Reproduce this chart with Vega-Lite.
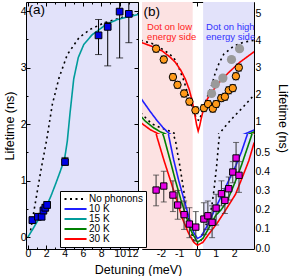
{
"$schema":"https://vega.github.io/schema/vega-lite/v6.json",
"padding":{"left":3,"top":1,"right":0,"bottom":0},
"bounds":"flush",
"spacing":4,
"config":{
 "font":"Liberation Sans",
 "view":{"stroke":null},
 "axis":{"grid":false,"domainColor":"black","domainWidth":1,"tickColor":"black","tickWidth":1,"tickSize":-4,"labelFont":"Liberation Sans","labelFontSize":10.5,"labelColor":"black","labelPadding":3,"titleFont":"Liberation Sans","titleFontSize":12.5,"titleFontWeight":"normal","titleColor":"black"}
},
"datasets":{
 "curvesA":[
  {"x":0.3,"y":0.12,"series":"No phonons"},{"x":0.6,"y":0.4,"series":"No phonons"},{"x":1.03,"y":0.81,"series":"No phonons"},{"x":1.5,"y":1.25,"series":"No phonons"},{"x":2.05,"y":1.72,"series":"No phonons"},{"x":2.67,"y":2.35,"series":"No phonons"},{"x":3.4,"y":2.82,"series":"No phonons"},{"x":4.3,"y":3.23,"series":"No phonons"},{"x":5.58,"y":3.53,"series":"No phonons"},{"x":6.84,"y":3.68,"series":"No phonons"},{"x":8.3,"y":3.79,"series":"No phonons"},{"x":10.5,"y":3.9,"series":"No phonons"},{"x":12,"y":3.95,"series":"No phonons"},
  {"x":0,"y":0,"series":"15 K"},{"x":0.5,"y":0.13,"series":"15 K"},{"x":1.0,"y":0.27,"series":"15 K"},{"x":1.5,"y":0.4,"series":"15 K"},{"x":2.0,"y":0.54,"series":"15 K"},{"x":2.5,"y":0.72,"series":"15 K"},{"x":3.0,"y":0.93,"series":"15 K"},{"x":3.5,"y":1.15,"series":"15 K"},{"x":4.0,"y":1.38,"series":"15 K"},{"x":4.3,"y":1.7,"series":"15 K"},{"x":4.6,"y":2.2,"series":"15 K"},{"x":5.0,"y":2.8,"series":"15 K"},{"x":5.5,"y":3.18,"series":"15 K"},{"x":6.1,"y":3.41,"series":"15 K"},{"x":7.0,"y":3.58,"series":"15 K"},{"x":7.6,"y":3.65,"series":"15 K"},{"x":8.5,"y":3.76,"series":"15 K"},{"x":9.75,"y":3.85,"series":"15 K"},{"x":11,"y":3.9,"series":"15 K"},{"x":12,"y":3.94,"series":"15 K"},
  {"x":-5,"y":-5,"series":"10 K"},{"x":-5,"y":-5,"series":"20 K"},{"x":-5,"y":-5,"series":"30 K"}
 ],
 "pointsA":[
  {"x":0.5,"y":0.30,"ylo":0.25,"yhi":0.36,"xlo":0.2,"xhi":0.8},
  {"x":1.1,"y":0.36,"ylo":0.31,"yhi":0.41,"xlo":0.8,"xhi":1.4},
  {"x":1.5,"y":0.36,"ylo":0.31,"yhi":0.42,"xlo":1.2,"xhi":1.8},
  {"x":1.7,"y":0.47,"ylo":0.41,"yhi":0.53,"xlo":1.4,"xhi":2.0},
  {"x":1.9,"y":0.52,"ylo":0.46,"yhi":0.58,"xlo":1.6,"xhi":2.2},
  {"x":2.1,"y":0.57,"ylo":0.51,"yhi":0.63,"xlo":1.8,"xhi":2.4},
  {"x":4.05,"y":1.33,"ylo":1.27,"yhi":1.41,"xlo":3.75,"xhi":4.35},
  {"x":7.7,"y":3.57,"ylo":3.23,"yhi":3.85,"xlo":7.7,"xhi":7.7},
  {"x":8.7,"y":3.72,"ylo":3.03,"yhi":3.80,"xlo":8.4,"xhi":9.0},
  {"x":10.0,"y":3.99,"ylo":3.17,"yhi":4.4,"xlo":10.0,"xhi":10.0},
  {"x":11.0,"y":3.95,"ylo":3.44,"yhi":4.5,"xlo":11.0,"xhi":11.0}
 ],
 "bands":[{"x1":-3.03,"x2":-0.26,"band":"low"},{"x1":0.31,"x2":3.09,"band":"high"}],
 "curvesB":[
  {"x":-3.1,"y":4.02,"series":"No phonons","curve":"np1"},{"x":-2.48,"y":3.9,"series":"No phonons","curve":"np1"},{"x":-1.8,"y":3.65,"series":"No phonons","curve":"np1"},{"x":-1.29,"y":3.38,"series":"No phonons","curve":"np1"},{"x":-1.02,"y":3.01,"series":"No phonons","curve":"np1"},{"x":-0.74,"y":2.52,"series":"No phonons","curve":"np1"},{"x":-0.47,"y":1.9,"series":"No phonons","curve":"np1"},{"x":-0.2,"y":1.41,"series":"No phonons","curve":"np1"},{"x":-0.05,"y":1.1,"series":"No phonons","curve":"np1"},{"x":0.1,"y":1.05,"series":"No phonons","curve":"np1"},{"x":0.3,"y":1.45,"series":"No phonons","curve":"np1"},{"x":0.55,"y":1.95,"series":"No phonons","curve":"np1"},{"x":0.8,"y":2.4,"series":"No phonons","curve":"np1"},{"x":0.98,"y":2.83,"series":"No phonons","curve":"np1"},{"x":1.2,"y":3.2,"series":"No phonons","curve":"np1"},{"x":1.44,"y":3.51,"series":"No phonons","curve":"np1"},{"x":1.99,"y":3.81,"series":"No phonons","curve":"np1"},{"x":2.5,"y":3.95,"series":"No phonons","curve":"np1"},{"x":3.1,"y":4.02,"series":"No phonons","curve":"np1"},
  {"x":-3.1,"y":1.33,"series":"No phonons","curve":"np2"},{"x":-2.5,"y":0.93,"series":"No phonons","curve":"np2"},{"x":-2.0,"y":0.78,"series":"No phonons","curve":"np2"},{"x":-1.6,"y":0.68,"series":"No phonons","curve":"np2"},{"x":-1.35,"y":0.6,"series":"No phonons","curve":"np2"},{"x":-1.2,"y":0.56,"series":"No phonons","curve":"np2"},{"x":-1.1,"y":0.5,"series":"No phonons","curve":"np2"},{"x":-1.0,"y":0.45,"series":"No phonons","curve":"np2"},{"x":-0.9,"y":0.39,"series":"No phonons","curve":"np2"},{"x":-0.75,"y":0.3,"series":"No phonons","curve":"np2"},{"x":-0.6,"y":0.2,"series":"No phonons","curve":"np2"},{"x":-0.4,"y":0.1,"series":"No phonons","curve":"np2"},{"x":-0.2,"y":0.04,"series":"No phonons","curve":"np2"},{"x":0,"y":0.02,"series":"No phonons","curve":"np2"},{"x":0.2,"y":0.04,"series":"No phonons","curve":"np2"},{"x":0.4,"y":0.1,"series":"No phonons","curve":"np2"},{"x":0.6,"y":0.16,"series":"No phonons","curve":"np2"},{"x":0.77,"y":0.21,"series":"No phonons","curve":"np2"},{"x":0.9,"y":0.3,"series":"No phonons","curve":"np2"},{"x":1.05,"y":0.43,"series":"No phonons","curve":"np2"},{"x":1.17,"y":0.56,"series":"No phonons","curve":"np2"},{"x":1.3,"y":0.65,"series":"No phonons","curve":"np2"},{"x":1.6,"y":0.9,"series":"No phonons","curve":"np2"},{"x":2.0,"y":1.2,"series":"No phonons","curve":"np2"},{"x":2.5,"y":1.55,"series":"No phonons","curve":"np2"},{"x":3.1,"y":2.0,"series":"No phonons","curve":"np2"},
  {"x":-3.1,"y":1.88,"series":"10 K","curve":"c10"},{"x":-2.6,"y":1.4,"series":"10 K","curve":"c10"},{"x":-2.2,"y":1.04,"series":"10 K","curve":"c10"},{"x":-1.9,"y":0.8,"series":"10 K","curve":"c10"},{"x":-1.66,"y":0.64,"series":"10 K","curve":"c10"},{"x":-1.56,"y":0.58,"series":"10 K","curve":"c10"},{"x":-1.3,"y":0.46,"series":"10 K","curve":"c10"},{"x":-1.02,"y":0.35,"series":"10 K","curve":"c10"},{"x":-0.66,"y":0.227,"series":"10 K","curve":"c10"},{"x":-0.4,"y":0.14,"series":"10 K","curve":"c10"},{"x":-0.2,"y":0.08,"series":"10 K","curve":"c10"},{"x":0,"y":0.05,"series":"10 K","curve":"c10"},{"x":0.2,"y":0.06,"series":"10 K","curve":"c10"},{"x":0.5,"y":0.11,"series":"10 K","curve":"c10"},{"x":0.8,"y":0.17,"series":"10 K","curve":"c10"},{"x":1.1,"y":0.23,"series":"10 K","curve":"c10"},{"x":1.44,"y":0.297,"series":"10 K","curve":"c10"},{"x":1.8,"y":0.37,"series":"10 K","curve":"c10"},{"x":2.1,"y":0.43,"series":"10 K","curve":"c10"},{"x":2.4,"y":0.5,"series":"10 K","curve":"c10"},{"x":2.72,"y":0.59,"series":"10 K","curve":"c10"},{"x":3.1,"y":0.7,"series":"10 K","curve":"c10"},
  {"x":-3.1,"y":1.22,"series":"20 K","curve":"c20"},{"x":-2.87,"y":1.04,"series":"20 K","curve":"c20"},{"x":-2.4,"y":0.78,"series":"20 K","curve":"c20"},{"x":-2.0,"y":0.62,"series":"20 K","curve":"c20"},{"x":-1.84,"y":0.58,"series":"20 K","curve":"c20"},{"x":-1.5,"y":0.46,"series":"20 K","curve":"c20"},{"x":-1.2,"y":0.35,"series":"20 K","curve":"c20"},{"x":-0.9,"y":0.25,"series":"20 K","curve":"c20"},{"x":-0.6,"y":0.16,"series":"20 K","curve":"c20"},{"x":-0.3,"y":0.08,"series":"20 K","curve":"c20"},{"x":0,"y":0.03,"series":"20 K","curve":"c20"},{"x":0.3,"y":0.05,"series":"20 K","curve":"c20"},{"x":0.6,"y":0.1,"series":"20 K","curve":"c20"},{"x":1.0,"y":0.17,"series":"20 K","curve":"c20"},{"x":1.3,"y":0.2,"series":"20 K","curve":"c20"},{"x":1.62,"y":0.245,"series":"20 K","curve":"c20"},{"x":2.0,"y":0.33,"series":"20 K","curve":"c20"},{"x":2.4,"y":0.43,"series":"20 K","curve":"c20"},{"x":2.9,"y":0.57,"series":"20 K","curve":"c20"},{"x":3.1,"y":0.63,"series":"20 K","curve":"c20"},
  {"x":-3.1,"y":0.97,"series":"30 K","curve":"c30"},{"x":-2.6,"y":0.72,"series":"30 K","curve":"c30"},{"x":-2.2,"y":0.575,"series":"30 K","curve":"c30"},{"x":-1.84,"y":0.46,"series":"30 K","curve":"c30"},{"x":-1.47,"y":0.35,"series":"30 K","curve":"c30"},{"x":-1.1,"y":0.24,"series":"30 K","curve":"c30"},{"x":-0.84,"y":0.158,"series":"30 K","curve":"c30"},{"x":-0.5,"y":0.08,"series":"30 K","curve":"c30"},{"x":-0.2,"y":0.03,"series":"30 K","curve":"c30"},{"x":0,"y":0.014,"series":"30 K","curve":"c30"},{"x":0.3,"y":0.03,"series":"30 K","curve":"c30"},{"x":0.6,"y":0.07,"series":"30 K","curve":"c30"},{"x":1.08,"y":0.13,"series":"30 K","curve":"c30"},{"x":1.62,"y":0.21,"series":"30 K","curve":"c30"},{"x":2.08,"y":0.28,"series":"30 K","curve":"c30"},{"x":2.5,"y":0.38,"series":"30 K","curve":"c30"},{"x":2.8,"y":0.453,"series":"30 K","curve":"c30"},{"x":3.1,"y":0.55,"series":"30 K","curve":"c30"},
  {"x":-3.1,"y":3.95,"series":"30 K","curve":"fit"},{"x":-2.5,"y":3.8,"series":"30 K","curve":"fit"},{"x":-1.93,"y":3.63,"series":"30 K","curve":"fit"},{"x":-1.5,"y":3.4,"series":"30 K","curve":"fit"},{"x":-1.2,"y":3.2,"series":"30 K","curve":"fit"},{"x":-0.9,"y":2.9,"series":"30 K","curve":"fit"},{"x":-0.66,"y":2.58,"series":"30 K","curve":"fit"},{"x":-0.45,"y":2.2,"series":"30 K","curve":"fit"},{"x":-0.29,"y":1.78,"series":"30 K","curve":"fit"},{"x":-0.15,"y":1.3,"series":"30 K","curve":"fit"},{"x":-0.05,"y":0.9,"series":"30 K","curve":"fit"},{"x":0.04,"y":0.66,"series":"30 K","curve":"fit"},{"x":0.12,"y":0.85,"series":"30 K","curve":"fit"},{"x":0.22,"y":1.16,"series":"30 K","curve":"fit"},{"x":0.32,"y":1.45,"series":"30 K","curve":"fit"},{"x":0.44,"y":1.71,"series":"30 K","curve":"fit"},{"x":0.7,"y":2.05,"series":"30 K","curve":"fit"},{"x":0.98,"y":2.27,"series":"30 K","curve":"fit"},{"x":1.3,"y":2.55,"series":"30 K","curve":"fit"},{"x":1.71,"y":2.83,"series":"30 K","curve":"fit"},{"x":2.3,"y":3.2,"series":"30 K","curve":"fit"},{"x":3.1,"y":3.6,"series":"30 K","curve":"fit"}
 ],
 "orange":[
  {"x":-2.26,"y":3.71,"ylo":3.58,"yhi":3.84},{"x":-1.84,"y":3.31,"ylo":3.18,"yhi":3.44},{"x":-1.34,"y":2.66,"ylo":2.53,"yhi":2.79},{"x":-1.09,"y":2.37,"ylo":2.24,"yhi":2.5},{"x":-0.73,"y":2.05,"ylo":1.92,"yhi":2.18},{"x":-0.44,"y":1.75,"ylo":1.62,"yhi":1.88},{"x":-0.11,"y":1.43,"ylo":1.3,"yhi":1.56},{"x":0.35,"y":1.51,"ylo":1.38,"yhi":1.64},{"x":0.58,"y":1.66,"ylo":1.53,"yhi":1.79},{"x":0.84,"y":1.49,"ylo":1.36,"yhi":1.62},{"x":1.02,"y":1.66,"ylo":1.53,"yhi":1.79},{"x":1.3,"y":1.88,"ylo":1.75,"yhi":2.01},{"x":1.5,"y":1.93,"ylo":1.8,"yhi":2.06},{"x":1.71,"y":2.17,"ylo":2.04,"yhi":2.3},{"x":1.93,"y":2.25,"ylo":2.12,"yhi":2.38},{"x":2.1,"y":2.69,"ylo":2.56,"yhi":2.82},{"x":2.26,"y":3.01,"ylo":2.88,"yhi":3.14}
 ],
 "gray":[{"x":0.77,"y":2.05},{"x":0.98,"y":2.4},{"x":1.39,"y":2.62},{"x":1.86,"y":3.31},{"x":2.3,"y":3.71}],
 "magenta":[
  {"x":-2.26,"y":0.302,"ylo":0.22,"yhi":0.38},{"x":-1.84,"y":0.323,"ylo":0.24,"yhi":0.40},{"x":-1.34,"y":0.276,"ylo":0.19,"yhi":0.35},{"x":-1.08,"y":0.224,"ylo":0.15,"yhi":0.30},{"x":-0.73,"y":0.174,"ylo":0.097,"yhi":0.245},{"x":-0.44,"y":0.125,"ylo":0.054,"yhi":0.21},{"x":-0.09,"y":0.109,"ylo":0.036,"yhi":0.19},{"x":0.35,"y":0.151,"ylo":0.071,"yhi":0.236},{"x":0.57,"y":0.168,"ylo":0.097,"yhi":0.245},{"x":0.8,"y":0.134,"ylo":0.054,"yhi":0.22},{"x":1.02,"y":0.208,"ylo":0.12,"yhi":0.28},{"x":1.31,"y":0.283,"ylo":0.22,"yhi":0.35},{"x":1.5,"y":0.248,"ylo":0.18,"yhi":0.31},{"x":1.71,"y":0.309,"ylo":0.25,"yhi":0.37},{"x":1.93,"y":0.396,"ylo":0.34,"yhi":0.45},{"x":2.11,"y":0.469,"ylo":0.39,"yhi":0.55},{"x":2.27,"y":0.379,"ylo":0.29,"yhi":0.45}
 ],
 "labelA":[{"x":0.07,"y":4.01,"t":"(a)"}],
 "labelB":[{"x":-2.95,"y":5.07,"t":"(b)"}],
 "textLow":[{"x":-2.75,"y":4.42,"t":"Dot on low\nenergy side"}],
 "textHigh":[{"x":0.47,"y":4.42,"t":"Dot on high\nenergy side"}]
},
"hconcat":[
 {
  "width":112,"height":247,
  "view":{"fill":"#e2e2fa","stroke":null},
  "resolve":{"axis":{"x":"independent","y":"independent"}},
  "layer":[
   {"data":{"name":"curvesA"},"mark":{"type":"line","strokeWidth":1.6,"clip":true},
    "encoding":{
     "x":{"field":"x","type":"quantitative","scale":{"domain":[-0.2,12],"nice":false,"zero":false},"axis":{"orient":"bottom","values":[0,2,4,6,8,10,12],"labelExpr":"'' + datum.value","title":"Detuning (meV)","titleX":112,"titleAlign":"center","titlePadding":5}},
     "y":{"field":"y","type":"quantitative","scale":{"domain":[-0.21,4.16],"nice":false,"zero":false},"axis":{"orient":"left","values":[0,1,2,3,4],"title":"Lifetime (ns)","titlePadding":4,"labelPadding":4}},
     "color":{"field":"series","type":"nominal","scale":{"domain":["No phonons","10 K","15 K","20 K","30 K"],"range":["#000000","#2020ff","#009c9c","#008000","#ff0000"]},
       "legend":{"orient":"none","legendX":34,"legendY":189,"title":null,"symbolType":"M-1,0H5.3","symbolSize":49,"symbolStrokeWidth":2,"strokeColor":"black","fillColor":"white","padding":3,"labelFontSize":10,"labelFont":"Liberation Sans","labelColor":"black","rowPadding":-1,"labelOffset":16}},
     "strokeDash":{"field":"series","type":"nominal","scale":{"domain":["No phonons","10 K","15 K","20 K","30 K"],"range":[[2,3.5],[1,0],[1,0],[1,0],[1,0]]},
       "legend":{"orient":"none","legendX":34,"legendY":189,"title":null,"symbolType":"M-1,0H5.3","symbolSize":49,"symbolStrokeWidth":2,"strokeColor":"black","fillColor":"white","padding":3,"labelFontSize":10,"labelFont":"Liberation Sans","labelColor":"black","rowPadding":-1,"labelOffset":16}}
    }},
   {"data":{"name":"pointsA"},"mark":{"type":"rule","color":"black","strokeWidth":1,"clip":true},
    "encoding":{
     "x":{"field":"x","type":"quantitative","scale":{"domain":[-0.2,12],"nice":false,"zero":false},"axis":{"orient":"top","values":[0,2,4,6,8,10,12],"labels":false,"title":null}},
     "y":{"field":"ylo","type":"quantitative","scale":{"domain":[-0.21,4.16],"nice":false,"zero":false},"axis":{"orient":"right","values":[0,1,2,3,4],"labels":false,"title":null}},
     "y2":{"field":"yhi"}
    }},
   {"data":{"name":"pointsA"},"mark":{"type":"rule","color":"black","strokeWidth":1,"clip":true},
    "encoding":{
     "x":{"field":"xlo","type":"quantitative","scale":{"domain":[-0.2,12],"nice":false,"zero":false},"axis":{"orient":"bottom","values":[1,3,5,7,9,11],"labels":false,"domain":false,"tickSize":-2,"title":null}},
     "x2":{"field":"xhi"},
     "y":{"field":"y","type":"quantitative","scale":{"domain":[-0.21,4.16],"nice":false,"zero":false},"axis":{"orient":"left","values":[0.5,1.5,2.5,3.5],"labels":false,"domain":false,"tickSize":-2,"title":null}}
    }},
   {"data":{"name":"pointsA"},"transform":[{"fold":["ylo","yhi"],"as":["k","cy"]}],"mark":{"type":"tick","orient":"horizontal","color":"black","size":7,"thickness":1,"clip":true},
    "encoding":{
     "x":{"field":"x","type":"quantitative","scale":{"domain":[-0.2,12],"nice":false,"zero":false},"axis":{"orient":"top","values":[1,3,5,7,9,11],"labels":false,"domain":false,"tickSize":-2,"title":null}},
     "y":{"field":"cy","type":"quantitative","scale":{"domain":[-0.21,4.16],"nice":false,"zero":false},"axis":{"orient":"right","values":[0.5,1.5,2.5,3.5],"labels":false,"domain":false,"tickSize":-2,"title":null}}
    }},
   {"data":{"name":"pointsA"},"mark":{"type":"square","size":45,"fill":"#0000e6","stroke":"black","strokeWidth":1,"opacity":1,"clip":true},
    "encoding":{
     "x":{"field":"x","type":"quantitative","axis":null},
     "y":{"field":"y","type":"quantitative","axis":null}
    }},
   {"data":{"name":"labelA"},"mark":{"type":"text","fontSize":13.5,"align":"left","baseline":"middle","color":"black"},
    "encoding":{
     "x":{"field":"x","type":"quantitative","axis":null},
     "y":{"field":"y","type":"quantitative","axis":null},
     "text":{"field":"t"}
    }}
  ]
 },
 {
  "vconcat":[
   {
    "width":112,"height":132,
    "view":{"fill":"white","stroke":null},
    "resolve":{"axis":{"x":"independent","y":"independent"}},
    "layer":[
     {"data":{"name":"bands"},"mark":{"type":"rect"},
      "encoding":{
       "x":{"field":"x1","type":"quantitative","scale":{"domain":[-3.03,3.09],"nice":false,"zero":false},"axis":null},
       "x2":{"field":"x2"},
       "fill":{"field":"band","type":"nominal","scale":{"domain":["low","high"],"range":["#fce2e2","#e2e2fa"]},"legend":null}
      }},
     {"data":{"name":"curvesB"},"mark":{"type":"line","strokeWidth":1.6,"clip":true},
      "encoding":{
       "x":{"field":"x","type":"quantitative","scale":{"domain":[-3.03,3.09],"nice":false,"zero":false},"axis":{"orient":"top","values":[-3,-2,-1,0,1,2,3],"labels":false,"title":null}},
       "y":{"field":"y","type":"quantitative","scale":{"domain":[0.55,5.44],"nice":false,"zero":false},"axis":{"orient":"right","values":[1,2,3,4,5],"title":"Lifetime (ns)","titleY":116,"titlePadding":15,"labelPadding":5}},
       "detail":{"field":"curve"},
       "color":{"field":"series","type":"nominal","scale":{"domain":["No phonons","10 K","15 K","20 K","30 K"],"range":["#000000","#2020ff","#009c9c","#008000","#ff0000"]},"legend":null},
       "strokeDash":{"field":"series","type":"nominal","scale":{"domain":["No phonons","10 K","15 K","20 K","30 K"],"range":[[2,3.5],[1,0],[1,0],[1,0],[1,0]]},"legend":null}
      }},
     {"data":{"name":"orange"},"mark":{"type":"rule","color":"black","strokeWidth":1,"clip":true},
      "encoding":{
       "x":{"field":"x","type":"quantitative","scale":{"domain":[-3.03,3.09],"nice":false,"zero":false},"axis":{"orient":"top","values":[-2.5,-1.5,-0.5,0.5,1.5,2.5],"labels":false,"domain":false,"tickSize":-2,"title":null}},
       "y":{"field":"ylo","type":"quantitative","scale":{"domain":[0.55,5.44],"nice":false,"zero":false},"axis":{"orient":"left","values":[1,2,3,4,5],"labels":false,"title":null}},
       "y2":{"field":"yhi"}
      }},
     {"data":{"name":"orange"},"transform":[{"fold":["ylo","yhi"],"as":["k","cy"]}],"mark":{"type":"tick","orient":"horizontal","color":"black","size":6,"thickness":1,"clip":true},
      "encoding":{
       "x":{"field":"x","type":"quantitative","axis":null},
       "y":{"field":"cy","type":"quantitative","scale":{"domain":[0.55,5.44],"nice":false,"zero":false},"axis":{"orient":"left","values":[1.5,2.5,3.5,4.5],"labels":false,"domain":false,"tickSize":-2,"title":null}}
      }},
     {"data":{"name":"gray"},"mark":{"type":"circle","size":85,"color":"#9a9a9a","opacity":1,"clip":true},
      "encoding":{
       "x":{"field":"x","type":"quantitative","axis":null},
       "y":{"field":"y","type":"quantitative","scale":{"domain":[0.55,5.44],"nice":false,"zero":false},"axis":{"orient":"right","values":[1.5,2.5,3.5,4.5],"labels":false,"domain":false,"tickSize":-2,"title":null}}
      }},
     {"data":{"name":"orange"},"mark":{"type":"circle","size":55,"fill":"#ff9a1a","stroke":"black","strokeWidth":1,"opacity":1,"clip":true},
      "encoding":{
       "x":{"field":"x","type":"quantitative","axis":null},
       "y":{"field":"y","type":"quantitative","axis":null}
      }},
     {"data":{"name":"textLow"},"mark":{"type":"text","fontSize":9.5,"lineHeight":10,"lineBreak":"\n","align":"left","baseline":"alphabetic","color":"#ff2020"},
      "encoding":{"x":{"field":"x","type":"quantitative","axis":null},"y":{"field":"y","type":"quantitative","axis":null},"text":{"field":"t"}}},
     {"data":{"name":"textHigh"},"mark":{"type":"text","fontSize":9.5,"lineHeight":10,"lineBreak":"\n","align":"left","baseline":"alphabetic","color":"#3030ff"},
      "encoding":{"x":{"field":"x","type":"quantitative","axis":null},"y":{"field":"y","type":"quantitative","axis":null},"text":{"field":"t"}}},
     {"data":{"name":"labelB"},"mark":{"type":"text","fontSize":13.5,"align":"left","baseline":"middle","color":"black"},
      "encoding":{"x":{"field":"x","type":"quantitative","axis":null},"y":{"field":"y","type":"quantitative","axis":null},"text":{"field":"t"}}}
    ]
   },
   {
    "width":112,"height":115,
    "view":{"fill":"white","stroke":null},
    "resolve":{"axis":{"x":"independent","y":"independent"}},
    "layer":[
     {"data":{"name":"bands"},"mark":{"type":"rect"},
      "encoding":{
       "x":{"field":"x1","type":"quantitative","scale":{"domain":[-3.03,3.09],"nice":false,"zero":false},"axis":null},
       "x2":{"field":"x2"},
       "fill":{"field":"band","type":"nominal","scale":{"domain":["low","high"],"range":["#fce2e2","#e2e2fa"]},"legend":null}
      }},
     {"data":{"name":"curvesB"},"mark":{"type":"line","strokeWidth":1.6,"clip":true},
      "encoding":{
       "x":{"field":"x","type":"quantitative","scale":{"domain":[-3.03,3.09],"nice":false,"zero":false},"axis":{"orient":"bottom","values":[-2,-1,0,1,2],"labelExpr":"'' + datum.value","title":null}},
       "y":{"field":"y","type":"quantitative","scale":{"domain":[-0.005,0.594],"nice":false,"zero":false},"axis":{"orient":"right","values":[0,0.1,0.2,0.3,0.4,0.5],"format":".1f","title":null,"labelPadding":5}},
       "detail":{"field":"curve"},
       "color":{"field":"series","type":"nominal","scale":{"domain":["No phonons","10 K","15 K","20 K","30 K"],"range":["#000000","#2020ff","#009c9c","#008000","#ff0000"]},"legend":null},
       "strokeDash":{"field":"series","type":"nominal","scale":{"domain":["No phonons","10 K","15 K","20 K","30 K"],"range":[[2,3.5],[1,0],[1,0],[1,0],[1,0]]},"legend":null}
      }},
     {"data":{"name":"magenta"},"mark":{"type":"rule","color":"#333333","strokeWidth":1,"clip":true},
      "encoding":{
       "x":{"field":"x","type":"quantitative","scale":{"domain":[-3.03,3.09],"nice":false,"zero":false},"axis":{"orient":"bottom","values":[-2.5,-1.5,-0.5,0.5,1.5,2.5],"labels":false,"domain":false,"tickSize":-2,"title":null}},
       "y":{"field":"ylo","type":"quantitative","scale":{"domain":[-0.005,0.594],"nice":false,"zero":false},"axis":{"orient":"left","values":[0,0.1,0.2,0.3,0.4,0.5],"labels":false,"title":null}},
       "y2":{"field":"yhi"}
      }},
     {"data":{"name":"magenta"},"transform":[{"fold":["ylo","yhi"],"as":["k","cy"]}],"mark":{"type":"tick","orient":"horizontal","color":"#333333","size":6,"thickness":1,"clip":true},
      "encoding":{
       "x":{"field":"x","type":"quantitative","axis":null},
       "y":{"field":"cy","type":"quantitative","scale":{"domain":[-0.005,0.594],"nice":false,"zero":false},"axis":{"orient":"left","values":[0.05,0.15,0.25,0.35,0.45,0.55],"labels":false,"domain":false,"tickSize":-2,"title":null}}
      }},
     {"data":{"name":"magenta"},"mark":{"type":"square","size":40,"fill":"#e600e6","stroke":"black","strokeWidth":1,"opacity":1,"clip":true},
      "encoding":{
       "x":{"field":"x","type":"quantitative","axis":null},
       "y":{"field":"y","type":"quantitative","scale":{"domain":[-0.005,0.594],"nice":false,"zero":false},"axis":{"orient":"right","values":[0.05,0.15,0.25,0.35,0.45,0.55],"labels":false,"domain":false,"tickSize":-2,"title":null}}
      }}
    ]
   }
  ],
  "spacing":0,
  "bounds":"flush"
 }
]
}
